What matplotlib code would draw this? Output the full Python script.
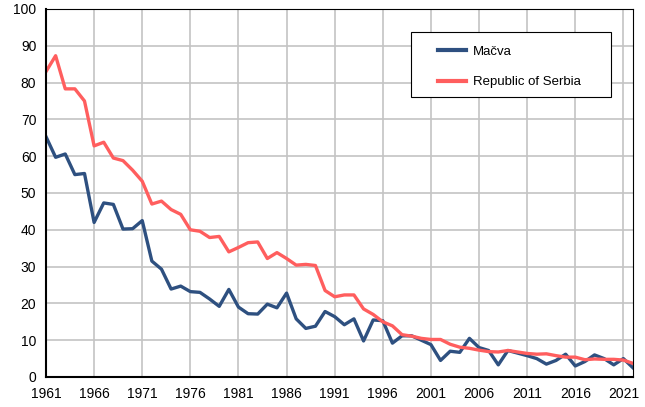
import matplotlib
matplotlib.use("Agg")
import matplotlib.pyplot as plt
from matplotlib.patches import Rectangle

years = list(range(1961, 2023))

macva = [65.3, 59.7, 60.6, 55.0, 55.3, 42.0, 47.3, 46.9, 40.2, 40.3,
         42.5, 31.5, 29.3, 23.9, 24.7, 23.2, 23.0, 21.2, 19.2, 23.8,
         19.0, 17.2, 17.1, 19.8, 18.8, 22.8, 15.8, 13.2, 13.8, 17.8,
         16.4, 14.2, 15.8, 9.8, 15.5, 15.3, 9.2, 11.2, 11.2, 10.0,
         8.8, 4.5, 7.0, 6.7, 10.5, 8.0, 7.2, 3.3, 7.2, 6.5,
         5.8, 5.0, 3.5, 4.5, 6.2, 3.0, 4.2, 6.0, 5.0, 3.3,
         5.0, 2.5]

serbia = [83.0, 87.3, 78.3, 78.3, 75.0, 62.8, 63.8, 59.5, 58.8, 56.2,
          53.2, 47.0, 47.8, 45.5, 44.2, 40.0, 39.6, 37.9, 38.2, 34.0,
          35.2, 36.5, 36.7, 32.2, 33.8, 32.2, 30.4, 30.6, 30.3, 23.5,
          21.8, 22.3, 22.3, 18.5, 17.0, 15.0, 13.9, 11.5, 11.1, 10.5,
          10.2, 10.2, 8.9, 8.1, 7.8, 7.3, 6.9, 6.8, 7.2, 6.8,
          6.4, 6.2, 6.3, 5.8, 5.4, 5.4, 4.7, 4.9, 4.8, 4.8,
          4.6, 3.7]

xticks = list(range(1961, 2022, 5))
yticks = list(range(0, 101, 10))

plt.rcParams['font.family'] = ['Liberation Sans', 'DejaVu Sans']

fig = plt.figure(figsize=(6.45, 4.07), dpi=100)
ax = fig.add_axes([46 / 645, 30 / 407, 587 / 645, 368 / 407])

ax.plot(years, macva, color='#2E5080', lw=2.4, label='Mačva')
ax.plot(years, serbia, color='#FF5E5E', lw=2.4, label='Republic of Serbia')

ax.set_xlim(1961, 2022)
ax.set_ylim(0, 100)
ax.set_xticks(xticks)
ax.set_yticks(yticks)
ax.tick_params(length=0, labelsize=10, pad=7)
ax.grid(True, color='#C4C4C4', lw=1.2)
ax.set_axisbelow(True)
for side in ax.spines:
    ax.spines[side].set_color('black')
    ax.spines[side].set_linewidth(0.8)
ax.spines['left'].set_linewidth(1.5)
ax.spines['bottom'].set_linewidth(1.5)

# legend frame drawn separately so the padding matches the original
ax.add_patch(Rectangle((0.6218, 0.7609), 0.3407, 0.1766, transform=ax.transAxes,
                       facecolor='white', edgecolor='black', lw=0.8, zorder=4))
leg = ax.legend(loc='center left', bbox_to_anchor=(0.6678, 0.843),
                fontsize=9.5, frameon=False, borderpad=0, labelspacing=1.4,
                handlelength=2.1, borderaxespad=0, handletextpad=0.53)
leg.set_zorder(5)
for line in leg.get_lines():
    line.set_linewidth(3)

fig.savefig('out.png', dpi=100)
